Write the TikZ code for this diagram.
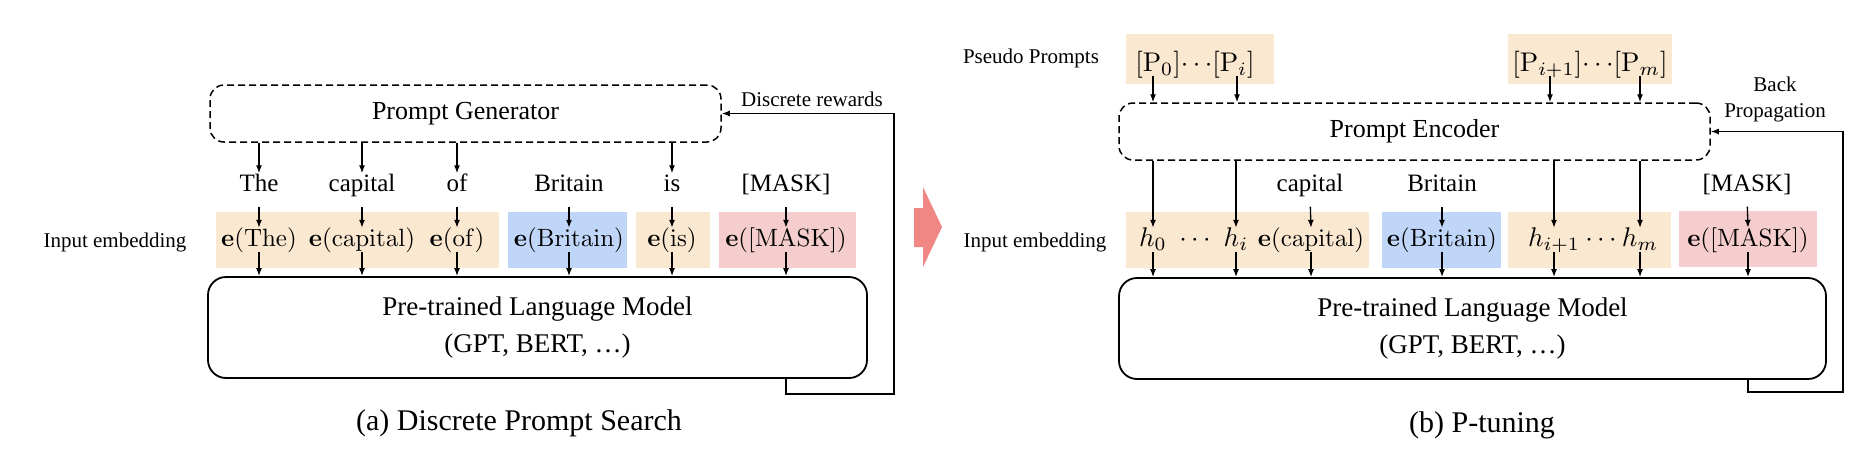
\RequirePackage{fix-cm}
\documentclass[tikz,border=0pt]{standalone}
\usepackage[no-math]{fontspec}
\setmainfont{Liberation Serif}
\usetikzlibrary{arrows.meta,calc}
\definecolor{orng}{RGB}{250,232,208}
\definecolor{blu}{RGB}{192,214,249}
\definecolor{pnk}{RGB}{245,205,205}
\definecolor{salmon}{RGB}{240,135,132}
\newcommand{\embm}[1]{\scalebox{2.5}{$#1$}}
\newcommand{\hm}[1]{\scalebox{2.7}{$#1$}}
\tikzset{
 arr/.style={-{Latex[length=8pt,width=6pt]}, line width=1.3pt},
 dbox/.style={draw, dash pattern=on 7pt off 4pt, rounded corners=14pt, line width=1.5pt},
 sbox/.style={draw, rounded corners=18pt, line width=1.8pt},
 emb/.style={inner sep=0pt, minimum height=56pt},
 word/.style={inner sep=0pt, text height=18pt, text depth=5pt, font=\fontsize{25}{30}\selectfont},
 etext/.style={inner sep=0pt, text height=18pt, text depth=6pt, font=\fontsize{10}{12}\selectfont},
 lbl/.style={inner sep=0pt, font=\fontsize{21}{26}\selectfont},
 ttl/.style={font=\fontsize{26}{31}\selectfont},
 plmtext/.style={align=center, font=\fontsize{27}{37}\selectfont},
 captxt/.style={inner sep=0pt, font=\fontsize{30}{36}\selectfont},
}
\begin{document}
\begin{tikzpicture}[x=1pt,y=-1pt]
\useasboundingbox (0,0) rectangle (1862,458);

% ===== Left panel =====
\node[dbox, minimum width=511pt, minimum height=57pt, ttl] (pg) at (465.5,113.5) {Prompt Generator};
\node[lbl] (dr) at (812,99) {Discrete rewards};

\node[word] (w1) at (259,185) {The};
\node[word] (w2) at (362,185) {capital};
\node[word] (w3) at (457,185) {of};
\node[word] (w4) at (569,185) {Britain};
\node[word] (w5) at (672,185) {is};
\node[word] (w6) at (786,185) {[MASK]};

\node[emb, fill=orng, minimum width=283pt] (b1) at (357.5,240) {};
\node[emb, fill=blu, minimum width=119pt] (b2) at (567.5,240) {};
\node[emb, fill=orng, minimum width=74pt] (b3) at (673,240) {};
\node[emb, fill=pnk, minimum width=137pt] (b4) at (787.5,240) {};

\node[lbl] (ieL) at (115,242) {Input embedding};

\node[etext] (e1) at (259,240) {\embm{\mathbf{e}(\mathrm{The})}};
\node[etext] (e2) at (362,240) {\embm{\mathbf{e}(\mathrm{capital})}};
\node[etext] (e3) at (457,240) {\embm{\mathbf{e}(\mathrm{of})}};
\node[etext] (e4) at (569,240) {\embm{\mathbf{e}(\mathrm{Britain})}};
\node[etext] (e5) at (672,240) {\embm{\mathbf{e}(\mathrm{is})}};
\node[etext] (e6) at (786,240) {\embm{\mathbf{e}([\mathrm{MASK}])}};

\node[sbox, minimum width=659pt, minimum height=101pt, plmtext] (plmL) at (537.5,327.5) {Pre-trained Language Model\\(GPT, BERT, …)};

\foreach \w in {w1,w2,w3,w5} \draw[arr] (pg.south -| \w) -- (\w.north);
\foreach \i in {1,...,6} {
  \draw[arr, shorten <=10pt] (w\i.south) -- (e\i.north);
  \draw[arr] (e\i.south) -- (e\i |- plmL.north);
}
\coordinate (fbL) at (894,394);
\draw[arr] (e6 |- plmL.south) |- (fbL) |- (pg.east);

\node[captxt] (capA) at (519,423) {(a) Discrete Prompt Search};

% ===== middle arrow =====
\fill[salmon] (914,208) -- (923,208) -- (923,187) -- (942,227) -- (923,267) -- (923,247) -- (914,247) -- cycle;

% ===== Right panel =====
\node[lbl] (pp) at (1031,58) {Pseudo Prompts};
\node[emb, fill=orng, minimum width=148pt, minimum height=50pt] (pb1) at (1200,59) {};
\node[emb, fill=orng, minimum width=164pt, minimum height=50pt] (pb2) at (1590,59) {};
\node[etext] (pt1) at (1195,65) {\hm{[\mathrm{P}_0]{\cdots}[\mathrm{P}_i]}};
\node[etext] (pt2) at (1590,65) {\hm{[\mathrm{P}_{i+1}]{\cdots}[\mathrm{P}_m]}};
\coordinate (a1) at (1153,76);
\coordinate (a2) at (1237,76);
\coordinate (a3) at (1550,76);
\coordinate (a4) at (1640,76);

\node[dbox, minimum width=591pt, minimum height=57pt, ttl] (pe) at (1414.5,131.5) {Prompt Encoder};
\node[lbl, align=center] (bp) at (1775,99) {Back\\Propagation};
\foreach \a in {a1,a2,a3,a4} \draw[arr] (\a) -- (\a |- pe.north);

\node[word] (r2) at (1310,185) {capital};
\node[word] (r4) at (1442,185) {Britain};
\node[word] (r6) at (1747,185) {[MASK]};

\node[emb, fill=orng, minimum width=243pt] (c1) at (1247.5,240) {};
\node[emb, fill=blu, minimum width=119pt] (c2) at (1441.5,240) {};
\node[emb, fill=orng, minimum width=163pt] (c3) at (1589.5,240) {};
\node[emb, fill=pnk, minimum width=138pt] (c4) at (1748,239) {};

\node[lbl] (ieR) at (1035,242) {Input embedding};

\node[etext] (h0) at (1153,240) {\hm{h_0}};
\node[etext] (d1) at (1195,240) {\hm{\cdots}};
\node[etext] (hi) at (1236,240) {\hm{h_i}};
\node[etext] (f2) at (1311,240) {\embm{\mathbf{e}(\mathrm{capital})}};
\node[etext] (f4) at (1442,240) {\embm{\mathbf{e}(\mathrm{Britain})}};
\node[etext] (hj) at (1554,240) {\hm{h_{i+1}}};
\node[etext] (d2) at (1601,240) {\hm{\cdots}};
\node[etext] (hmm) at (1640,240) {\hm{h_m}};
\node[etext] (f6) at (1748,240) {\embm{\mathbf{e}([\mathrm{MASK}])}};

\node[sbox, minimum width=707pt, minimum height=101pt, plmtext] (plmR) at (1472.5,328.5) {Pre-trained Language Model\\(GPT, BERT, …)};

\foreach \h in {h0,hi,hj,hmm} \draw[arr] (pe.south -| \h) -- (\h.north);
\draw[arr, shorten <=10pt] (r2.south) -- (f2.north);
\draw[arr, shorten <=10pt] (r4.south) -- (f4.north);
\draw[arr, shorten <=10pt] (r6.south) -- (f6.north);
\foreach \n in {h0,hi,f2,f4,hj,hmm,f6} \draw[arr] (\n.south) -- (\n |- plmR.north);

\coordinate (fbR) at (1843,392);
\draw[arr] (f6 |- plmR.south) |- (fbR) |- (pe.east);

\node[captxt] (capB) at (1482,425) {(b) P-tuning};
\end{tikzpicture}
\end{document}
